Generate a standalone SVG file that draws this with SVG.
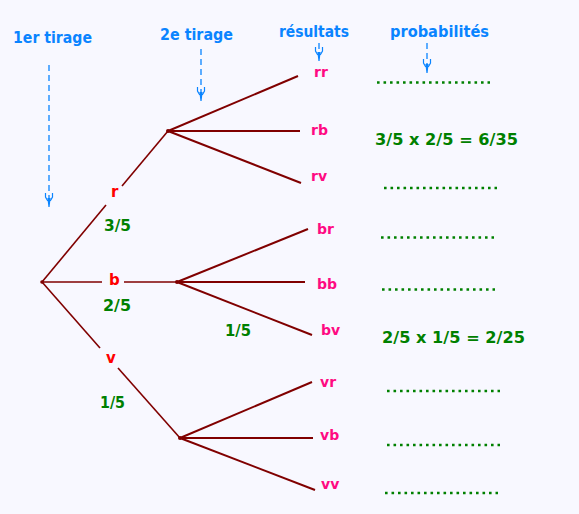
<svg xmlns="http://www.w3.org/2000/svg" width="579" height="514" viewBox="0 0 579 514">
<style>
  text { font-family: "DejaVu Sans", Verdana, sans-serif; font-weight: bold; }
  .hdr { fill: #0A84FF; font-size: 15px; }
  .res { fill: #FF0A82; font-size: 14px; }
  .br { fill: #FF0000; font-size: 15px; }
  .pr { fill: #008000; font-size: 15.5px; }
  .edge1 { stroke: #800000; stroke-width: 1.6; fill: none; }
  .edge2 { stroke: #800000; stroke-width: 2; fill: none; }
  .dash { stroke: #0A84FF; stroke-width: 1.3; stroke-dasharray: 6 4; fill: none; }
  .dots { stroke: #008000; stroke-width: 2.6; stroke-dasharray: 2.6 3.9; fill: none; }
</style>
<defs>
  <g id="ahead">
    <path d="M-3.5,-14 L-3.5,-10 L-1.2,-6 M3.5,-14 L3.5,-10 L1.2,-6" stroke="#0A84FF" stroke-width="1.2" fill="none"/>
    <polygon points="-1.6,-9 1.6,-9 0.6,0 -0.6,0" fill="#0A84FF"/>
  </g>
</defs>
<rect width="579" height="514" fill="#F8F8FF"/>

<g id="headers">
  <text class="hdr" x="13" y="43" textLength="79" lengthAdjust="spacingAndGlyphs">1er tirage</text>
  <text class="hdr" x="160" y="40" textLength="73" lengthAdjust="spacingAndGlyphs">2e tirage</text>
  <text class="hdr" x="279" y="37" textLength="70" lengthAdjust="spacingAndGlyphs">résultats</text>
  <text class="hdr" x="390" y="37" textLength="99" lengthAdjust="spacingAndGlyphs">probabilités</text>
</g>

<g id="pointers">
  <line class="dash" x1="49" y1="65" x2="49" y2="198"/>
  <use href="#ahead" x="49" y="207"/>
  <line class="dash" x1="201" y1="49" x2="201" y2="92"/>
  <use href="#ahead" x="201" y="101"/>
  <line class="dash" x1="319" y1="43" x2="319" y2="52" stroke-dasharray="none"/>
  <use href="#ahead" x="319" y="61"/>
  <line class="dash" x1="427" y1="43" x2="427" y2="64" stroke-dasharray="4 6"/>
  <use href="#ahead" x="427" y="73"/>
</g>

<g id="connectors">
  <line class="edge1" x1="42" y1="282" x2="106" y2="205"/>
  <line class="edge1" x1="122" y1="186" x2="168" y2="131"/>
  <line class="edge1" x1="42" y1="282" x2="102" y2="282" stroke-width="2"/>
  <line class="edge1" x1="124" y1="282" x2="177" y2="282" stroke-width="2"/>
  <line class="edge1" x1="42" y1="282" x2="100" y2="348"/>
  <line class="edge1" x1="118" y1="368" x2="180" y2="438"/>

  <line class="edge2" x1="168" y1="131" x2="298" y2="76"/>
  <line class="edge2" x1="168" y1="131" x2="300" y2="131"/>
  <line class="edge2" x1="168" y1="131" x2="301" y2="183"/>

  <line class="edge2" x1="177" y1="282" x2="308" y2="229"/>
  <line class="edge2" x1="177" y1="282" x2="305" y2="282"/>
  <line class="edge2" x1="177" y1="282" x2="312" y2="335"/>

  <line class="edge2" x1="180" y1="438" x2="312" y2="382"/>
  <line class="edge2" x1="180" y1="438" x2="313" y2="438"/>
  <line class="edge2" x1="180" y1="438" x2="315" y2="490"/>
</g>

<g id="root"><circle cx="42" cy="282" r="1.8" fill="#800000"/></g>
<g id="node-r">
  <circle cx="168" cy="131" r="2" fill="#800000"/>
  <text class="br" x="111" y="197">r</text>
  <text class="pr" x="104" y="231" textLength="27" lengthAdjust="spacingAndGlyphs">3/5</text>
</g>
<g id="node-b">
  <circle cx="177" cy="282" r="2" fill="#800000"/>
  <text class="br" x="109" y="285">b</text>
  <text class="pr" x="103" y="311" textLength="28" lengthAdjust="spacingAndGlyphs">2/5</text>
</g>
<g id="node-v">
  <circle cx="180" cy="438" r="2" fill="#800000"/>
  <text class="br" x="106" y="363">v</text>
  <text class="pr" x="100" y="408" textLength="25" lengthAdjust="spacingAndGlyphs">1/5</text>
</g>
<g id="label-bv-prob">
  <text class="pr" x="225" y="336" textLength="26" lengthAdjust="spacingAndGlyphs">1/5</text>
</g>

<g id="res-rr"><text class="res" x="314" y="77">rr</text><line class="dots" x1="377" y1="82.5" x2="490" y2="82.5"/></g>
<g id="res-rb"><text class="res" x="311" y="135">rb</text><text class="pr" x="375" y="145" textLength="143" lengthAdjust="spacingAndGlyphs">3/5 x 2/5 = 6/35</text></g>
<g id="res-rv"><text class="res" x="311" y="181">rv</text><line class="dots" x1="384" y1="188" x2="497" y2="188"/></g>
<g id="res-br"><text class="res" x="317" y="234">br</text><line class="dots" x1="381" y1="237.5" x2="494" y2="237.5"/></g>
<g id="res-bb"><text class="res" x="317" y="289">bb</text><line class="dots" x1="382" y1="289.5" x2="495" y2="289.5"/></g>
<g id="res-bv"><text class="res" x="321" y="335">bv</text><text class="pr" x="382" y="343" textLength="143" lengthAdjust="spacingAndGlyphs">2/5 x 1/5 = 2/25</text></g>
<g id="res-vr"><text class="res" x="320" y="387">vr</text><line class="dots" x1="387" y1="391" x2="500" y2="391"/></g>
<g id="res-vb"><text class="res" x="320" y="440">vb</text><line class="dots" x1="387" y1="445" x2="500" y2="445"/></g>
<g id="res-vv"><text class="res" x="321" y="489">vv</text><line class="dots" x1="385" y1="493" x2="498" y2="493"/></g>
</svg>
